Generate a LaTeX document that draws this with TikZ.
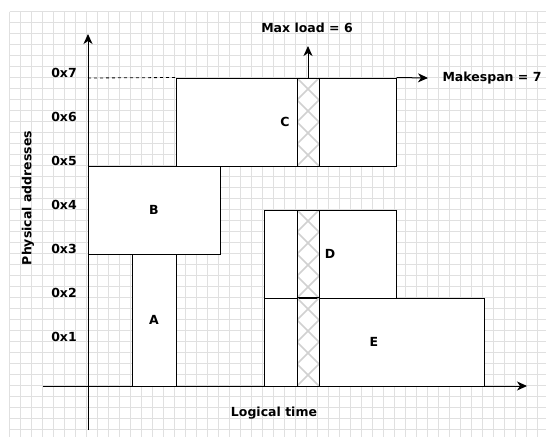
\documentclass[tikz,border=0pt]{standalone}
\usepackage{fontspec}
\setmainfont{DejaVu Sans}
\usetikzlibrary{arrows.meta,calc}
\begin{document}
\begin{tikzpicture}[x=1pt,y=-1pt,
  box/.style={draw=black, fill=white, line width=1pt, font=\bfseries\fontsize{12.5}{15}\selectfont, inner sep=0pt},
  lbl/.style={font=\bfseries\fontsize{12.5}{15}\selectfont},
  axis/.style={line width=1pt, -{Stealth[length=10pt,width=9pt,inset=3pt]}},
  hatchline/.style={draw=black!18, line width=1.5pt},
  hatch/.style={draw=black, line width=1pt, minimum width=22pt, inner sep=0pt,
    path picture={
      \foreach \k in {-1,...,9}{
        \draw[hatchline] ($(path picture bounding box.north west)+(0,\k*22)$) -- ++(22,22);
        \draw[hatchline] ($(path picture bounding box.north east)+(0,\k*22)$) -- ++(-22,22);
      }}}]
\useasboundingbox (0,0) rectangle (546,437);
\fill[white] (0,0) rectangle (546,437);
% grid
\foreach \i in {0,...,48} \draw[black!12, line width=1pt] (9.5+\i*11,11.5) -- (9.5+\i*11,437);
\foreach \j in {0,...,38} \draw[black!12, line width=1pt] (9.5,11.5+\j*11) -- (546,11.5+\j*11);
% axes
\coordinate (xs) at (43,386);
\coordinate (xe) at (527,386);
\coordinate (ys) at (88,430);
\coordinate (ye) at (88,34);
\draw[axis] (xs) -- (xe);
\draw[axis] (ys) -- (ye);
% boxes
\node[box, minimum width=44pt, minimum height=132pt] (A) at (154,320) {A};
\node[box, minimum width=132pt, minimum height=88pt] (B) at (154,210) {B};
\node[box, minimum width=220pt, minimum height=88pt] (C) at (286,122) {\hspace*{-2pt}C};
\node[box, minimum width=220pt, minimum height=88pt] (E) at (374,342) {E};
\node[box, minimum width=132pt, minimum height=88pt] (D) at (330,254) {D};
% hatched columns
\node[hatch, minimum height=88pt] (hc) at (308,122) {};
\node[hatch, minimum height=176pt] (hd) at (308,298) {};
\draw[line width=0.8pt] (hd.west |- E.north) -- (hd.east |- E.north);
% tick labels
\foreach \v in {1,...,7} \node[lbl] (t\v) at (64,381-44*\v) {0x\v};
% dashed guide
\coordinate (y7) at (88,78);
\draw[line width=0.8pt, dash pattern=on 3pt off 3pt] (y7) -- (C.north west);
% makespan
\node[lbl, anchor=west] (ms) at (439,78) {Makespan = 7};
\draw[axis] (C.north east) -- ([xshift=-11pt]ms.west);
% max load
\node[lbl] (ml) at (307,28) {Max load = 6};
\coordinate (mltip) at (308,46);
\draw[axis] (hc.north) -- (mltip);
% axis labels
\node[lbl] (xl) at (274,413) {Logical time};
\node[lbl, rotate=90] (yl) at (28,198) {Physical addresses};
\end{tikzpicture}
\end{document}
